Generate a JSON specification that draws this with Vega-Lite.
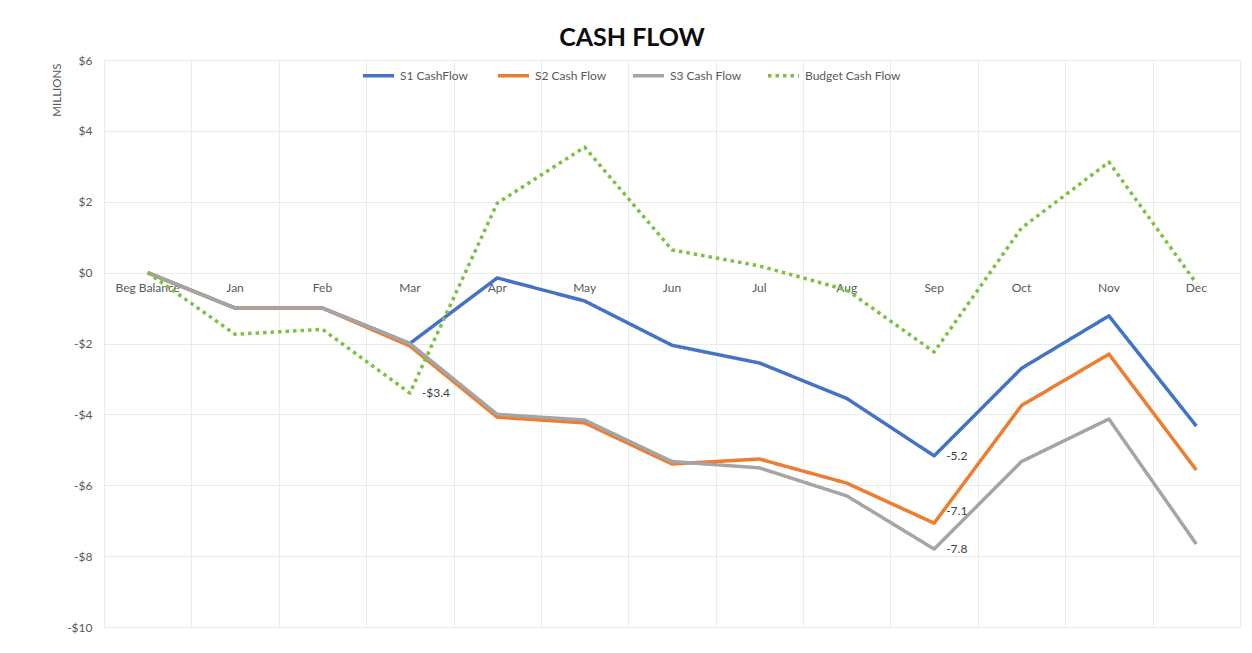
{
  "$schema": "https://vega.github.io/schema/vega-lite/v6.json",
  "width": 1136,
  "height": 567,
  "autosize": "none",
  "padding": {"left": 104, "top": 60, "right": 12, "bottom": 26},
  "background": "white",
  "config": {"view": {"stroke": null}, "font": "Lato"},
  "title": {"text": "CASH FLOW", "fontSize": 25, "fontWeight": "bold", "font": "Lato", "color": "#0d0d0d", "anchor": "middle", "dx": -40, "offset": 3, "limit": 0},
  "data": {"values": [
    {"month": "Beg Balance", "series": "S1 CashFlow", "value": 0},
    {"month": "Jan", "series": "S1 CashFlow", "value": -1.0},
    {"month": "Feb", "series": "S1 CashFlow", "value": -1.0},
    {"month": "Mar", "series": "S1 CashFlow", "value": -2.0},
    {"month": "Apr", "series": "S1 CashFlow", "value": -0.15},
    {"month": "May", "series": "S1 CashFlow", "value": -0.8},
    {"month": "Jun", "series": "S1 CashFlow", "value": -2.05},
    {"month": "Jul", "series": "S1 CashFlow", "value": -2.55},
    {"month": "Aug", "series": "S1 CashFlow", "value": -3.55},
    {"month": "Sep", "series": "S1 CashFlow", "value": -5.17, "label": "-5.2"},
    {"month": "Oct", "series": "S1 CashFlow", "value": -2.7},
    {"month": "Nov", "series": "S1 CashFlow", "value": -1.22},
    {"month": "Dec", "series": "S1 CashFlow", "value": -4.33},
    {"month": "Beg Balance", "series": "S2 Cash Flow", "value": 0},
    {"month": "Jan", "series": "S2 Cash Flow", "value": -1.0},
    {"month": "Feb", "series": "S2 Cash Flow", "value": -1.0},
    {"month": "Mar", "series": "S2 Cash Flow", "value": -2.07},
    {"month": "Apr", "series": "S2 Cash Flow", "value": -4.08},
    {"month": "May", "series": "S2 Cash Flow", "value": -4.24},
    {"month": "Jun", "series": "S2 Cash Flow", "value": -5.4},
    {"month": "Jul", "series": "S2 Cash Flow", "value": -5.26},
    {"month": "Aug", "series": "S2 Cash Flow", "value": -5.94},
    {"month": "Sep", "series": "S2 Cash Flow", "value": -7.07, "label": "-7.1"},
    {"month": "Oct", "series": "S2 Cash Flow", "value": -3.75},
    {"month": "Nov", "series": "S2 Cash Flow", "value": -2.3},
    {"month": "Dec", "series": "S2 Cash Flow", "value": -5.57},
    {"month": "Beg Balance", "series": "S3 Cash Flow", "value": 0},
    {"month": "Jan", "series": "S3 Cash Flow", "value": -1.0},
    {"month": "Feb", "series": "S3 Cash Flow", "value": -1.0},
    {"month": "Mar", "series": "S3 Cash Flow", "value": -2.0},
    {"month": "Apr", "series": "S3 Cash Flow", "value": -4.0},
    {"month": "May", "series": "S3 Cash Flow", "value": -4.16},
    {"month": "Jun", "series": "S3 Cash Flow", "value": -5.33},
    {"month": "Jul", "series": "S3 Cash Flow", "value": -5.51},
    {"month": "Aug", "series": "S3 Cash Flow", "value": -6.3},
    {"month": "Sep", "series": "S3 Cash Flow", "value": -7.8, "label": "-7.8"},
    {"month": "Oct", "series": "S3 Cash Flow", "value": -5.33},
    {"month": "Nov", "series": "S3 Cash Flow", "value": -4.13},
    {"month": "Dec", "series": "S3 Cash Flow", "value": -7.66},
    {"month": "Beg Balance", "series": "Budget Cash Flow", "value": 0},
    {"month": "Jan", "series": "Budget Cash Flow", "value": -1.74},
    {"month": "Feb", "series": "Budget Cash Flow", "value": -1.6},
    {"month": "Mar", "series": "Budget Cash Flow", "value": -3.4, "label": "-$3.4"},
    {"month": "Apr", "series": "Budget Cash Flow", "value": 1.96},
    {"month": "May", "series": "Budget Cash Flow", "value": 3.54},
    {"month": "Jun", "series": "Budget Cash Flow", "value": 0.64},
    {"month": "Jul", "series": "Budget Cash Flow", "value": 0.19},
    {"month": "Aug", "series": "Budget Cash Flow", "value": -0.49},
    {"month": "Sep", "series": "Budget Cash Flow", "value": -2.24},
    {"month": "Oct", "series": "Budget Cash Flow", "value": 1.26},
    {"month": "Nov", "series": "Budget Cash Flow", "value": 3.12},
    {"month": "Dec", "series": "Budget Cash Flow", "value": -0.3}
  ]},
  "layer": [
    {
      "mark": {"type": "line", "strokeWidth": 3.5, "strokeJoin": "round"},
      "encoding": {
        "x": {"field": "month", "type": "nominal",
          "sort": ["Beg Balance", "Jan", "Feb", "Mar", "Apr", "May", "Jun", "Jul", "Aug", "Sep", "Oct", "Nov", "Dec"],
          "scale": {"type": "band", "paddingInner": 0, "paddingOuter": 0},
          "bandPosition": 0.5,
          "axis": {"orient": "bottom", "labels": false, "ticks": false, "domain": false, "grid": true, "tickBand": "extent", "gridColor": "#ebebeb", "title": null}},
        "y": {"field": "value", "type": "quantitative",
          "scale": {"domain": [-10, 6], "nice": false, "zero": false},
          "axis": {"values": [-10, -8, -6, -4, -2, 0, 2, 4, 6],
            "labelExpr": "datum.value < 0 ? '-$' + abs(datum.value) : '$' + datum.value",
            "domain": false, "ticks": false, "labelPadding": 12, "labelFontSize": 12, "labelColor": "#595959",
            "gridColor": "#ebebeb", "title": "MILLIONS", "titleFontSize": 11.5, "titleFontWeight": "normal", "titleColor": "#595959",
            "titleAngle": -90, "titleX": -47, "titleY": 3, "titleAlign": "right", "titleBaseline": "middle"}},
        "color": {"field": "series", "type": "nominal",
          "scale": {"domain": ["S1 CashFlow", "S2 Cash Flow", "S3 Cash Flow", "Budget Cash Flow"], "range": ["#4472C4", "#ED7D31", "#A5A5A5", "#7CC142"]},
          "legend": {"orient": "none", "direction": "horizontal", "legendX": 257, "legendY": -2, "title": null, "symbolType": "stroke", "symbolSize": 961, "symbolStrokeWidth": 3.5, "labelFontSize": 12, "labelColor": "#595959", "columnPadding": -9, "gridAlign": "all", "labelOffset": 4}},
        "strokeDash": {"field": "series", "type": "nominal",
          "scale": {"domain": ["S1 CashFlow", "S2 Cash Flow", "S3 Cash Flow", "Budget Cash Flow"], "range": [[1, 0], [1, 0], [1, 0], [3.5, 4]]},
          "legend": {"orient": "none", "direction": "horizontal", "legendX": 257, "legendY": -2, "title": null, "symbolType": "stroke", "symbolSize": 961, "symbolStrokeWidth": 3.5, "labelFontSize": 12, "labelColor": "#595959", "columnPadding": -9, "gridAlign": "all", "labelOffset": 4}}
      }
    },
    {
      "transform": [{"filter": "datum.label != null && datum.label != '-7.1'"}],
      "mark": {"type": "text", "align": "left", "baseline": "middle", "dx": 12, "fontSize": 12, "color": "#404040"},
      "encoding": {
        "x": {"field": "month", "type": "nominal",
          "sort": ["Beg Balance", "Jan", "Feb", "Mar", "Apr", "May", "Jun", "Jul", "Aug", "Sep", "Oct", "Nov", "Dec"],
          "scale": {"type": "band", "paddingInner": 0, "paddingOuter": 0},
          "bandPosition": 0.5,
          "axis": {"orient": "bottom", "offset": -354.4, "labels": true, "ticks": false, "domain": false, "grid": false, "labelAngle": 0, "labelPadding": 10, "labelFontSize": 12, "labelColor": "#595959", "title": null}},
        "y": {"field": "value", "type": "quantitative", "scale": {"domain": [-10, 6], "nice": false, "zero": false}},
        "text": {"field": "label"}
      }
    },
    {
      "transform": [{"filter": "datum.label == '-7.1'"}],
      "mark": {"type": "text", "align": "left", "baseline": "middle", "dx": 12, "dy": -12, "fontSize": 12, "color": "#404040"},
      "encoding": {
        "x": {"field": "month", "type": "nominal",
          "sort": ["Beg Balance", "Jan", "Feb", "Mar", "Apr", "May", "Jun", "Jul", "Aug", "Sep", "Oct", "Nov", "Dec"],
          "scale": {"type": "band", "paddingInner": 0, "paddingOuter": 0},
          "bandPosition": 0.5,
          "axis": null},
        "y": {"field": "value", "type": "quantitative", "scale": {"domain": [-10, 6], "nice": false, "zero": false}},
        "text": {"field": "label"}
      }
    }
  ],
  "resolve": {"axis": {"x": "independent"}}
}
